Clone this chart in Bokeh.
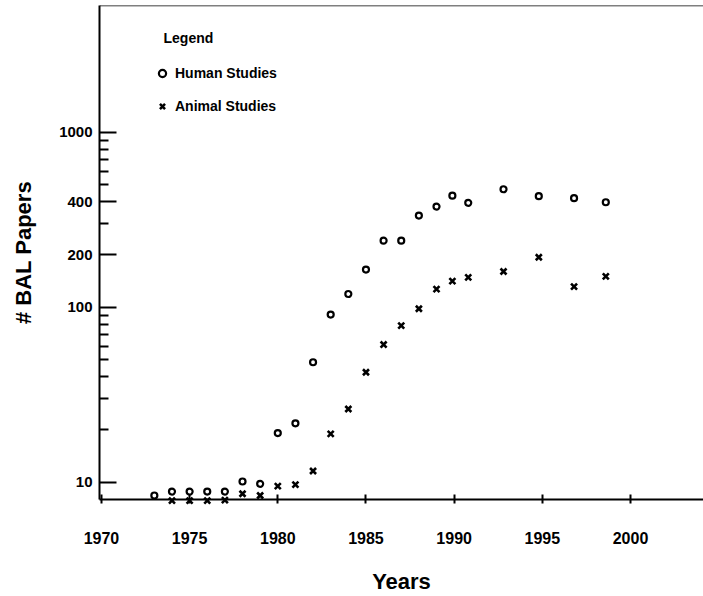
from bokeh.plotting import figure
from bokeh.models import Range1d, FixedTicker, Legend, LegendItem, Label, Span
from bokeh.embed import file_html
from bokeh.resources import INLINE

# ---- data ----
human_years = [1973, 1974, 1975, 1976, 1977, 1978, 1979, 1980, 1981, 1982, 1983, 1984,
               1985, 1986, 1987, 1988, 1989, 1989.9, 1990.8, 1992.8, 1994.8, 1996.8, 1998.6]
human_papers = [8.4, 8.85, 8.85, 8.85, 8.85, 10.1, 9.8, 19.1, 21.7, 48.5, 90.8, 119,
                164, 240, 240, 334, 376, 434, 395, 472, 431, 420, 398]

animal_years = [1974, 1975, 1976, 1977, 1978, 1979, 1980, 1981, 1982, 1983, 1984,
                1985, 1986, 1987, 1988, 1989, 1989.9, 1990.8, 1992.8, 1994.8, 1996.8, 1998.6]
animal_papers = [7.85, 7.85, 7.85, 7.9, 8.6, 8.4, 9.5, 9.7, 11.6, 18.9, 26.2,
                 42.5, 61.2, 78.5, 98, 127, 141, 148, 160, 193, 131, 150]

x_ticks = [1970, 1975, 1980, 1985, 1990, 1995, 2000]
y_ticks = [10, 100, 200, 400, 1000]
y_minor = [20, 30, 40, 50, 60, 70, 80, 90, 300, 500, 600, 700, 800, 900]

FONT = "Liberation Sans"
Y_TOP = 5295

p = figure(width=703, height=596,
           x_range=Range1d(1969.89, 2004.14), y_range=Range1d(7.97, Y_TOP),
           y_axis_type="log", output_backend="svg", toolbar_location=None,
           min_border_left=99, min_border_right=0, min_border_top=5, min_border_bottom=97)
p.grid.visible = False
p.outline_line_color = None
p.background_fill_color = "white"
p.border_fill_color = "white"

# top frame line
p.add_layout(Span(location=Y_TOP, dimension="width", line_color="black", line_width=1.5))

xa = p.xaxis[0]
xa.ticker = FixedTicker(ticks=x_ticks)
xa.major_tick_in = 5
xa.major_tick_out = 4
xa.minor_tick_in = 0
xa.minor_tick_out = 0
xa.axis_line_width = 2
xa.major_tick_line_width = 2
xa.major_label_standoff = 28
xa.major_label_text_font = FONT
xa.major_label_text_font_style = "bold"
xa.major_label_text_font_size = "16px"
xa.major_label_text_color = "black"
xa.axis_label = "Years"
xa.axis_label_text_font = FONT
xa.axis_label_text_font_style = "bold"
xa.axis_label_text_font_size = "22px"
xa.axis_label_text_color = "black"
xa.axis_label_standoff = 22

ya = p.yaxis[0]
ya.ticker = FixedTicker(ticks=y_ticks, minor_ticks=y_minor)
ya.major_label_overrides = {t: str(t) for t in y_ticks}
ya.major_tick_in = 17
ya.major_tick_out = 0
ya.minor_tick_in = 9
ya.minor_tick_out = 0
ya.axis_line_width = 2
ya.major_tick_line_width = 2
ya.minor_tick_line_width = 2
ya.minor_tick_line_color = "black"
ya.major_label_standoff = 7
ya.major_label_text_font = FONT
ya.major_label_text_font_style = "bold"
ya.major_label_text_font_size = "15px"
ya.major_label_text_color = "black"
ya.axis_label = "# BAL Papers"
ya.axis_label_text_font = FONT
ya.axis_label_text_font_style = "bold"
ya.axis_label_text_font_size = "22px"
ya.axis_label_text_color = "black"
ya.axis_label_standoff = 20

r1 = p.scatter(human_years, human_papers, marker="circle", size=6,
               fill_color=None, line_color="black", line_width=2.2, level="overlay")
r2 = p.scatter(animal_years, animal_papers, marker="x", size=8.5,
               line_color="black", line_width=2.6, level="overlay")

legend = Legend(items=[LegendItem(label="Human Studies", renderers=[r1]),
                       LegendItem(label="Animal Studies", renderers=[r2])],
                location=(54, 383), padding=0, spacing=13,
                glyph_width=18, glyph_height=20, label_height=20, label_standoff=4,
                border_line_color=None, background_fill_alpha=0,
                label_text_font=FONT, label_text_font_style="bold",
                label_text_font_size="14px", label_text_color="black")
p.add_layout(legend)

p.add_layout(Label(x=64, y=462, x_units="screen", y_units="screen", text="Legend",
                   text_font=FONT, text_font_style="bold", text_font_size="14px",
                   text_color="black", text_baseline="alphabetic"))

open("out.html", "w").write(file_html(p, INLINE))
